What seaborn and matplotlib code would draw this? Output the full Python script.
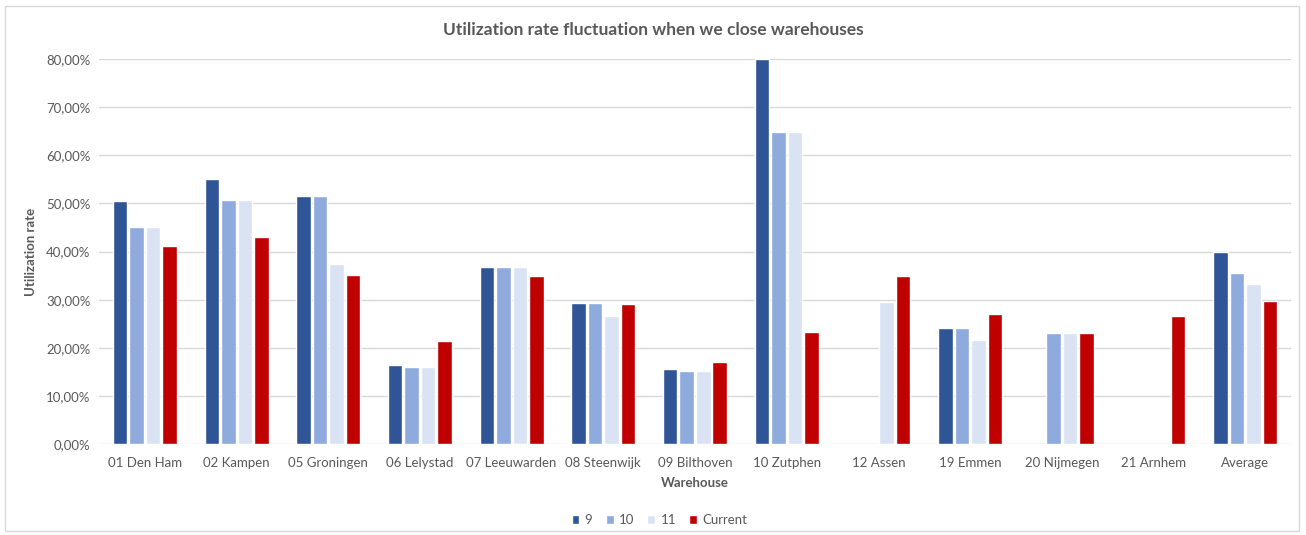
import numpy as np
import pandas as pd
import seaborn as sns
import matplotlib.pyplot as plt
from matplotlib.patches import Rectangle
from matplotlib.ticker import FuncFormatter, MultipleLocator

warehouses = ["01 Den Ham", "02 Kampen", "05 Groningen", "06 Lelystad", "07 Leeuwarden",
              "08 Steenwijk", "09 Bilthoven", "10 Zutphen", "12 Assen", "19 Emmen",
              "20 Nijmegen", "21 Arnhem", "Average"]
series_names = ["9", "10", "11", "Current"]
rate_9 = [50.5, 55.1, 51.5, 16.5, 36.7, 29.3, 15.5, 80.0, np.nan, 24.1, np.nan, np.nan, 40.0]
rate_10 = [45.0, 50.8, 51.5, 16.1, 36.7, 29.3, 15.2, 64.8, np.nan, 24.1, 23.0, np.nan, 35.5]
rate_11 = [45.0, 50.8, 37.4, 16.1, 36.7, 26.6, 15.2, 64.8, 29.5, 21.6, 23.0, np.nan, 33.3]
rate_current = [41.2, 43.1, 35.1, 21.5, 34.9, 29.1, 17.0, 23.3, 34.9, 27.0, 23.1, 26.7, 29.8]
colors = ["#2F5597", "#8FAADC", "#DAE3F3", "#C00000"]

rows = []
for name, vals in zip(series_names, [rate_9, rate_10, rate_11, rate_current]):
    for wh, v in zip(warehouses, vals):
        rows.append({"Warehouse": wh, "Series": name, "Rate": v})
df = pd.DataFrame(rows).dropna()

sns.set_theme(style="white")
plt.rcParams["font.family"] = ["Lato", "DejaVu Sans"]
text_color = "#595959"

fig = plt.figure(figsize=(13.06, 5.35), dpi=100)
ax = fig.add_axes([0.0758, 0.170, 0.9127, 0.7197])

sns.barplot(data=df, x="Warehouse", y="Rate", hue="Series", order=warehouses,
            hue_order=series_names, palette=colors, width=0.72, gap=0.12,
            saturation=1, errorbar=None, ax=ax, legend=True, zorder=3)

ax.set_ylim(0, 80)
ax.yaxis.set_major_locator(MultipleLocator(10))
ax.yaxis.set_major_formatter(FuncFormatter(lambda v, p: f"{v:.2f}%".replace(".", ",")))
ax.grid(axis="y", color="#D9D9D9", linewidth=1, zorder=0)
ax.set_axisbelow(True)
for s in ax.spines.values():
    s.set_visible(False)
ax.tick_params(axis="both", length=0, labelsize=9.5, colors=text_color)
ax.tick_params(axis="x", pad=9)
ax.tick_params(axis="y", pad=6)

ax.set_xlabel("Warehouse", fontsize=9.5, fontweight="bold", color=text_color, labelpad=6)
ax.set_ylabel("Utilization rate", fontsize=9.5, fontweight="bold", color=text_color, labelpad=7)
fig.text(0.5, 0.943, "Utilization rate fluctuation when we close warehouses",
         ha="center", va="center", fontsize=12.5, fontweight="bold", color=text_color)

handles, labels = ax.get_legend_handles_labels()
ax.legend_.remove()
fig.legend(handles, labels, loc="center", bbox_to_anchor=(0.505, 0.028), ncol=4,
           frameon=False, fontsize=9.5, handlelength=0.6, handleheight=0.6,
           handletextpad=0.4, columnspacing=1.0, labelcolor=text_color)

fig.patches.append(Rectangle((0.004, 0.008), 0.991, 0.98, transform=fig.transFigure,
                             fill=False, edgecolor="#D9D9D9", linewidth=1))

fig.savefig("out.png", dpi=100, facecolor="white")
